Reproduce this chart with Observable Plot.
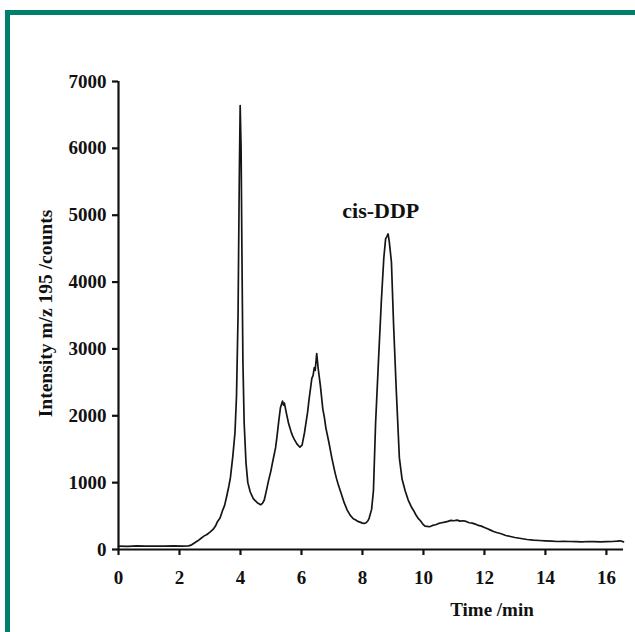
<!DOCTYPE html>
<html><head><meta charset="utf-8">
<script src="https://cdn.jsdelivr.net/npm/d3@7"></script>
<script src="https://cdn.jsdelivr.net/npm/@observablehq/plot@0.6"></script>
<style>
body{margin:0;background:#fff;}
#wrap{position:relative;width:635px;height:632px;overflow:hidden;background:#fff;}
#border{position:absolute;left:5px;top:10px;width:700px;height:700px;border-left:5px solid #007f6a;border-top:5px solid #007f6a;}
#chart{position:absolute;left:0;top:0;}
</style></head><body>
<div id="wrap"><div id="border"></div><div id="chart"></div></div>
<script>
const xTicks = [0, 2, 4, 6, 8, 10, 12, 14, 16];
const yTicks = [0, 1000, 2000, 3000, 4000, 5000, 6000, 7000];
const xLabel = "Time /min";
const yLabel = "Intensity m/z 195 /counts";
const peakName = "cis-DDP";
const peakLabelX = 8.6;
const peakLabelY = 5060;

const time = [0, 0.3, 0.6, 0.9, 1.2, 1.5, 1.8, 2.1, 2.3, 2.4, 2.5, 2.6, 2.7, 2.8, 2.9, 3.0, 3.1, 3.18, 3.25, 3.33, 3.41, 3.48, 3.55, 3.62, 3.67, 3.75, 3.82, 3.87, 3.92, 3.96, 3.99, 4.02, 4.05, 4.08, 4.12, 4.18, 4.24, 4.32, 4.42, 4.55, 4.66, 4.72, 4.78, 4.85, 4.92, 5.0, 5.05, 5.1, 5.15, 5.2, 5.25, 5.31, 5.35, 5.38, 5.41, 5.44, 5.5, 5.58, 5.66, 5.71, 5.76, 5.85, 5.95, 6.02, 6.1, 6.15, 6.2, 6.25, 6.3, 6.34, 6.38, 6.42, 6.45, 6.5, 6.55, 6.62, 6.7, 6.75, 6.8, 6.9, 6.95, 7.0, 7.1, 7.15, 7.2, 7.3, 7.4, 7.5, 7.6, 7.7, 7.78, 7.85, 7.92, 8.0, 8.06, 8.12, 8.18, 8.22, 8.3, 8.36, 8.43, 8.53, 8.62, 8.7, 8.76, 8.8, 8.84, 8.88, 8.95, 9.02, 9.11, 9.21, 9.3, 9.4, 9.5, 9.6, 9.68, 9.75, 9.82, 9.9, 9.98, 10.05, 10.12, 10.2, 10.3, 10.4, 10.5, 10.6, 10.7, 10.8, 10.9, 11.0, 11.1, 11.2, 11.3, 11.4, 11.5, 11.6, 11.7, 11.8, 11.9, 12.0, 12.1, 12.2, 12.3, 12.4, 12.55, 12.7, 12.85, 13.0, 13.2, 13.4, 13.6, 13.8, 14.0, 14.2, 14.4, 14.6, 14.8, 15.0, 15.2, 15.4, 15.6, 15.8, 16.0, 16.2, 16.35, 16.45, 16.56];
const intensity = [50, 48, 53, 49, 52, 50, 54, 51, 55, 70, 100, 130, 165, 200, 225, 260, 300, 350, 420, 470, 580, 660, 800, 950, 1075, 1400, 1750, 2300, 3500, 5500, 6640, 6000, 4300, 2800, 1900, 1300, 1000, 860, 760, 700, 670, 690, 740, 880, 1030, 1180, 1300, 1410, 1520, 1700, 1900, 2120, 2180, 2220, 2160, 2190, 2050, 1880, 1760, 1700, 1650, 1580, 1530, 1560, 1750, 1900, 2050, 2250, 2420, 2560, 2600, 2720, 2680, 2930, 2700, 2450, 2100, 1980, 1820, 1600, 1480, 1360, 1150, 1060, 980, 840, 700, 590, 510, 460, 440, 420, 410, 395, 390, 400, 430, 470, 600, 880, 1880, 2870, 3720, 4360, 4650, 4680, 4720, 4600, 4300, 3370, 2370, 1370, 1050, 880, 740, 640, 580, 520, 470, 430, 380, 350, 345, 340, 360, 370, 390, 400, 410, 420, 435, 430, 440, 425, 430, 420, 400, 395, 380, 360, 350, 330, 310, 290, 270, 255, 235, 210, 195, 180, 165, 150, 140, 135, 130, 125, 120, 122, 120, 118, 115, 120, 118, 115, 118, 120, 125, 130, 115];

const data = time.map((t, i) => ({t, v: intensity[i]}));

const chart = Plot.plot({
  width: 635, height: 632,
  marginLeft: 118, marginRight: 12, marginTop: 81, marginBottom: 83,
  style: {fontFamily: "'Liberation Serif', 'Times New Roman', serif", fontWeight: "bold", fontSize: "19px", background: "transparent", color: "#111"},
  x: {domain: [0, 16.56]},
  y: {domain: [0, 7000]},
  marks: [
    Plot.axisX({ticks: xTicks, tickFormat: d => String(d), tickSize: 6, tickPadding: 15, label: null, strokeWidth: 2.2, fontWeight: "bold"}),
    Plot.axisY({ticks: yTicks, tickFormat: d => String(d), tickSize: 6, tickPadding: 6, label: null, strokeWidth: 2.2, fontWeight: "bold"}),
    Plot.ruleY([0], {stroke: "#111", strokeWidth: 2.2}),
    Plot.ruleX([0], {stroke: "#111", strokeWidth: 2.2}),
    Plot.line(data, {x: "t", y: "v", stroke: "#151515", strokeWidth: 1.7}),
    Plot.text([peakName], {x: peakLabelX, y: peakLabelY, text: d => d, fontSize: 22, fontWeight: "bold", fill: "#111"}),
    Plot.text([xLabel], {frameAnchor: "bottom", dx: 121, dy: 60, textAnchor: "middle", lineAnchor: "middle", text: d => d, fontSize: 19, fontWeight: "bold", fill: "#111"}),
    Plot.text([yLabel], {frameAnchor: "left", dx: -73, dy: -2, textAnchor: "middle", lineAnchor: "middle", rotate: -90, text: d => d, fontSize: 19.5, fontWeight: "bold", fill: "#111"})
  ]
});
document.getElementById("chart").appendChild(chart);
</script>
</body></html>
